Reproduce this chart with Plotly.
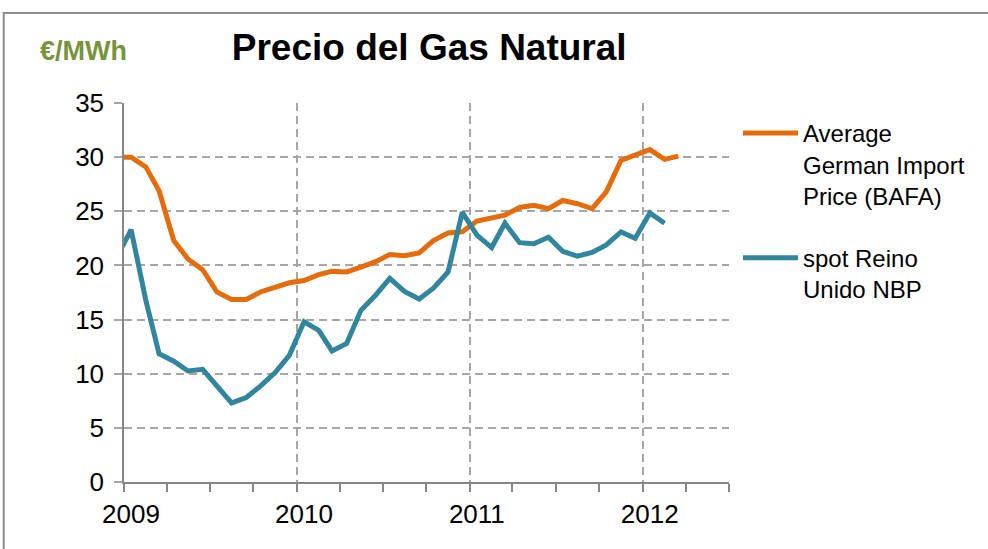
import pandas as pd
import plotly.graph_objects as go

# Monthly dates (mid-month), Dec 2008 .. Mar 2012
months = pd.date_range("2008-12-01", "2012-03-01", freq="MS") + pd.Timedelta(days=15)

bafa_name = "Average<br>German Import<br>Price (BAFA)"
nbp_name = "spot Reino<br>Unido NBP"

bafa = [30.0,
        30.0, 29.1, 26.9, 22.3, 20.6, 19.6, 17.55, 16.85, 16.85, 17.55, 18.0, 18.4,
        18.6, 19.15, 19.45, 19.4, 19.85, 20.35, 21.0, 20.9, 21.15, 22.3, 23.0, 23.1,
        24.1, 24.4, 24.65, 25.35, 25.55, 25.25, 26.0, 25.7, 25.25, 26.8, 29.7, 30.2,
        30.7, 29.8, 30.1]

nbp = [20.7,
       23.3, 16.8, 11.85, 11.15, 10.25, 10.4, 8.85, 7.3, 7.8, 8.85, 10.1, 11.7,
       14.8, 14.0, 12.1, 12.8, 15.85, 17.25, 18.8, 17.6, 16.9, 17.9, 19.4, 24.9,
       22.8, 21.65, 23.9, 22.1, 22.0, 22.6, 21.3, 20.85, 21.2, 21.9, 23.1, 22.5,
       24.85, 23.9]

year_ticks = ["2009-01-01", "2010-01-01", "2011-01-01", "2012-01-01"]
year_labels = ["2009", "2010", "2011", "2012"]
y_ticks = [0, 5, 10, 15, 20, 25, 30, 35]

FONT = "Liberation Sans, Arial, sans-serif"
ORANGE = "#E46C0A"
BLUE = "#31859C"
GRID = "#A6A6A6"
AXIS = "#868686"

fig = go.Figure()
fig.add_trace(go.Scatter(x=months, y=bafa, name=bafa_name, mode="lines",
                         line=dict(color=ORANGE, width=5), legendgroup="a"))
fig.add_trace(go.Scatter(x=months[:len(nbp)], y=nbp, name=nbp_name, mode="lines",
                         line=dict(color=BLUE, width=5), legendgroup="b"))

fig.update_layout(
    width=988, height=549,
    margin=dict(l=124, r=259, t=103, b=67),
    paper_bgcolor="white", plot_bgcolor="white",
    font=dict(family=FONT, color="black"),
    title=dict(text="Precio del Gas Natural", x=0.5045, xref="paper", xanchor="center",
               y=1 - 47 / 549, yref="container", yanchor="middle",
               font=dict(family=FONT, size=37, weight="bold", color="black")),
    showlegend=True,
    legend=dict(x=1.0 + 9 / 605, xanchor="left", y=(482 - 111) / 379, yanchor="top",
                font=dict(family=FONT, size=24, color="black"),
                valign="top", tracegroupgap=28, itemwidth=55,
                bgcolor="rgba(0,0,0,0)"),
    xaxis=dict(type="date", range=["2009-01-01", "2012-07-01"],
               tickmode="array", tickvals=year_ticks, ticktext=year_labels,
               ticks="outside", ticklen=8, tickwidth=1.5, tickcolor=AXIS,
               tickfont=dict(family=FONT, size=26, color="black"),
               ticklabelstandoff=0, ticklabelshift=7,
               showline=True, linecolor=AXIS, linewidth=1.5,
               showgrid=True, gridcolor=GRID, gridwidth=1.5, griddash="8px,5px",
               minor=dict(dtick="M3", tick0="2009-01-01", ticks="outside", ticklen=8,
                          tickwidth=1.5, tickcolor=AXIS, showgrid=False),
               zeroline=False),
    yaxis=dict(range=[0, 35], tickmode="array", tickvals=y_ticks,
               ticks="outside", ticklen=8, tickwidth=1.5, tickcolor=GRID,
               tickfont=dict(family=FONT, size=26, color="black"),
               ticklabelstandoff=5,
               showline=True, linecolor=AXIS, linewidth=1.5,
               showgrid=True, gridcolor=GRID, gridwidth=1.5, griddash="8px,5px",
               zeroline=False),
)

# Unit label
fig.add_annotation(text="<b>€/MWh</b>", xref="paper", yref="paper",
                   x=(84 - 124.3) / 605, y=(482 - 51) / 379,
                   xanchor="center", yanchor="middle", showarrow=False,
                   font=dict(family=FONT, size=27, color="#77933C"))

# Outer chart frame
fig.add_shape(type="rect", xref="paper", yref="paper",
              x0=(4 - 124.3) / 605, x1=(1000 - 124.3) / 605,
              y0=(482 - 560) / 379, y1=(482 - 13) / 379,
              line=dict(color="#8C8C8C", width=2), fillcolor="rgba(0,0,0,0)",
              layer="below")

fig.write_html("out.html", config={"displayModeBar": False},
               post_script="document.body.style.margin='0';")
